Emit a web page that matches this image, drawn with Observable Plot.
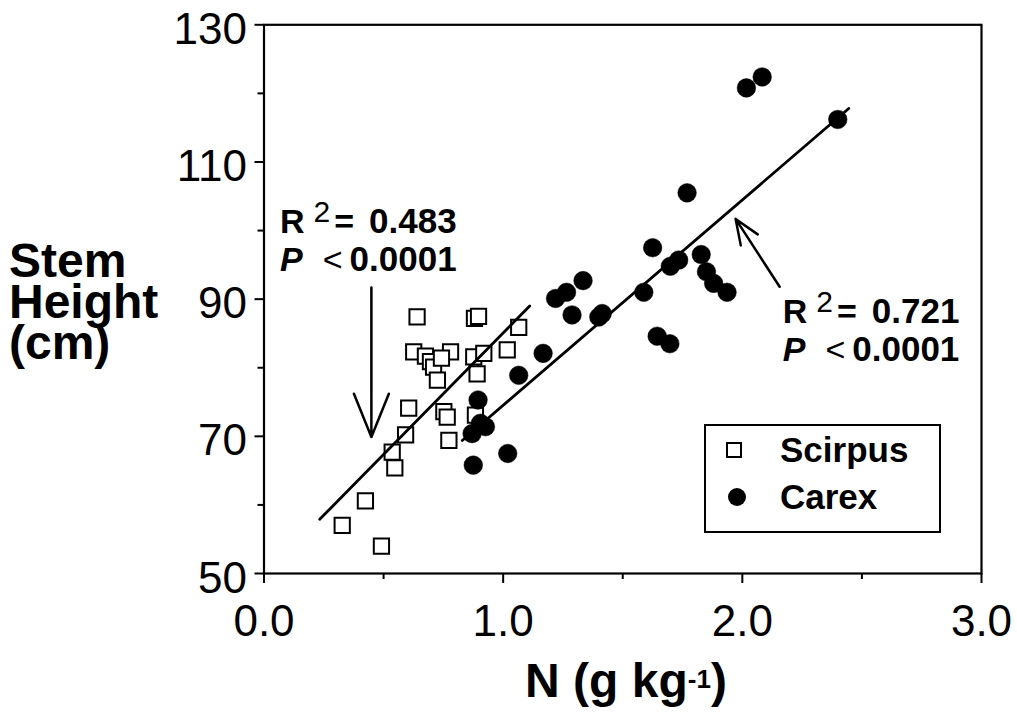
<!DOCTYPE html>
<html>
<head>
<meta charset="utf-8">
<script src="https://cdn.jsdelivr.net/npm/d3@7"></script>
<script src="https://cdn.jsdelivr.net/npm/@observablehq/plot@0.6"></script>
<style>
  html, body { margin: 0; padding: 0; background: #fff; }
  #wrap { position: relative; width: 1017px; height: 717px; font-family: "Liberation Sans", Arial, Helvetica, sans-serif; color: #000; }
  #wrap > svg { position: absolute; left: 0; top: 0; }
  #wrap .ytitle { position: absolute; left: 9px; top: 240px; font-weight: bold; font-size: 48px; line-height: 41px; white-space: pre-line; }
  #wrap .xtitle { position: absolute; left: 420px; width: 412px; top: 655px; text-align: center; font-weight: bold; font-size: 48px; line-height: 52px; }
  #wrap .xtitle sup { font-size: 26px; position: relative; top: -2px; vertical-align: top; }
  #wrap .legend { position: absolute; left: 704px; top: 424px; width: 233px; height: 105px; border: 2px solid #000; background: #fff; }
  #wrap .legend .row { position: absolute; left: 0; height: 40px; width: 233px; }
  #wrap .legend .row svg { position: absolute; left: 0; top: 0; }
  #wrap .legend .row span { position: absolute; left: 74px; top: 0; font-weight: bold; font-size: 35px; line-height: 40px; }
</style>
</head>
<body>
<div id="wrap"></div>
<script>
// ---- data ----
const scirpusN      = [0.640, 0.880, 0.897, 1.065, 1.017, 0.626, 0.675, 0.696, 0.709, 0.725, 0.780, 0.742, 0.877, 0.919, 0.891, 0.605, 0.752, 0.766, 0.884, 0.773, 0.592, 0.536, 0.547, 0.424, 0.327, 0.491];
const scirpusHeight = [87.4, 87.2, 87.5, 85.9, 82.6, 82.3, 81.7, 80.9, 80.1, 78.2, 82.3, 81.4, 81.6, 82.1, 79.1, 74.1, 73.6, 72.8, 73.1, 69.4, 70.2, 67.7, 65.4, 60.6, 57.0, 54.0];
const carexN        = [2.017, 2.083, 2.399, 1.769, 1.625, 1.699, 1.734, 1.828, 1.850, 1.880, 1.936, 1.588, 1.334, 1.219, 1.265, 1.288, 1.400, 1.414, 1.644, 1.697, 1.167, 1.065, 0.895, 0.905, 0.870, 0.926, 1.019, 0.875];
const carexHeight   = [120.8, 122.4, 116.2, 105.5, 97.5, 94.8, 95.7, 96.5, 94.0, 92.3, 91.0, 91.0, 92.7, 90.1, 91.0, 87.7, 87.4, 87.9, 84.6, 83.5, 82.1, 78.9, 75.3, 71.9, 70.4, 71.4, 67.5, 65.8];
// fitted regression lines (end points)
const scirpusFitN      = [0.233, 1.111];
const scirpusFitHeight = [57.9, 89.0];
const carexFitN        = [0.829, 2.445];
const carexFitHeight   = [69.4, 117.8];
// axis ticks
const xTicks = [0, 1, 2, 3];
const xMinorTicks = [0.5, 1.5, 2.5];
const yTicks = [50, 70, 90, 110, 130];
const yMinorTicks = [60, 80, 100, 120];
// series names, axis titles and annotation texts
const seriesNames = ["Scirpus", "Carex"];
const yTitleLines = ["Stem", "Height", "(cm)"];
const r2Values = ["0.483", "0.721"];
const pTexts = ["0.0001", "0.0001"];
// annotation anchors (data units) and arrows
const noteN = [0.069, 2.171];
const noteHeight = [99.6, 86.5];
const arrowFromN = [0.449, 2.156];
const arrowFromHeight = [91.7, 91.8];
const arrowToN = [0.449, 1.972];
const arrowToHeight = [69.9, 101.7];

// ---- tables ----
const scirpus = scirpusN.map((n, i) => ({n, h: scirpusHeight[i]}));
const carex = carexN.map((n, i) => ({n, h: carexHeight[i]}));
const scirpusFit = scirpusFitN.map((n, i) => ({n, h: scirpusFitHeight[i]}));
const carexFit = carexFitN.map((n, i) => ({n, h: carexFitHeight[i]}));
const arrows = arrowFromN.map((n, i) => ({x1: n, y1: arrowFromHeight[i], x2: arrowToN[i], y2: arrowToHeight[i]}));

const FONT = '"Liberation Sans", Arial, Helvetica, sans-serif';

const chart = Plot.plot({
  width: 1017,
  height: 717,
  marginLeft: 263.5,
  marginRight: 36,
  marginTop: 24.3,
  marginBottom: 144,
  x: {domain: [0, 3]},
  y: {domain: [50, 130]},
  style: {fontFamily: FONT, background: "white", color: "black", overflow: "visible"},
  marks: [
    // minor and major ticks
    Plot.axisX({ticks: xMinorTicks, tickSize: 6, strokeWidth: 2, fill: "none", label: null}),
    Plot.axisX({ticks: xTicks, tickSize: 10, strokeWidth: 2, fill: "none", label: null}),
    Plot.axisX({ticks: xTicks, tickSize: 0, tickPadding: 31, tickFormat: d => d.toFixed(1), fontSize: 44, label: null}),
    Plot.axisY({ticks: yMinorTicks, tickSize: 6, strokeWidth: 2, fill: "none", label: null}),
    Plot.axisY({ticks: yTicks, tickSize: 9, strokeWidth: 2, fill: "none", label: null}),
    Plot.axisY({ticks: yTicks, tickSize: 0, tickPadding: 17, dy: 5, fontSize: 44, label: null}),
    Plot.frame({stroke: "black", strokeWidth: 2.2}),
    // data
    Plot.dot(scirpus, {x: "n", y: "h", symbol: "square", r: 8.6, fill: "white", stroke: "black", strokeWidth: 2}),
    Plot.dot(carex, {x: "n", y: "h", r: 9.3, fill: "black", stroke: "black", strokeWidth: 0.5}),
    Plot.line(scirpusFit, {x: "n", y: "h", stroke: "black", strokeWidth: 2.8}),
    Plot.line(carexFit, {x: "n", y: "h", stroke: "black", strokeWidth: 2.8}),
    Plot.arrow(arrows, {x1: "x1", y1: "y1", x2: "x2", y2: "y2", stroke: "black", strokeWidth: 2.5, headLength: 28, headAngle: 44})
  ]
});

const wrap = document.getElementById("wrap");
wrap.appendChild(chart);

// annotations with superscripts, anchored through the plot's own scales
const sx = chart.scale("x"), sy = chart.scale("y");
const svgNS = "http://www.w3.org/2000/svg";
const g = document.createElementNS(svgNS, "g");
g.setAttribute("font-family", FONT);
g.setAttribute("font-size", "34");
g.setAttribute("text-anchor", "start");
chart.appendChild(g);
noteN.forEach((n, i) => {
  const px = sx.apply(n), py = sy.apply(noteHeight[i]);
  const t1 = document.createElementNS(svgNS, "text");
  t1.setAttribute("x", px); t1.setAttribute("y", py);
  t1.innerHTML = `<tspan font-weight="bold">R</tspan><tspan dx="9" dy="-11" font-weight="normal" font-size="30">2</tspan><tspan dx="4" dy="11" font-weight="bold">=</tspan><tspan dx="15" font-weight="bold" font-size="35">${r2Values[i]}</tspan>`;
  g.appendChild(t1);
  const t2 = document.createElementNS(svgNS, "text");
  t2.setAttribute("x", px); t2.setAttribute("y", py + 38);
  t2.innerHTML = `<tspan font-weight="bold" font-style="italic">P</tspan><tspan dx="20" font-weight="normal">&lt;</tspan><tspan dx="7" font-weight="bold" font-size="35">${pTexts[i]}</tspan>`;
  g.appendChild(t2);
});

// axis titles
const yt = document.createElement("div");
yt.className = "ytitle";
yt.textContent = yTitleLines.join("\n");
wrap.appendChild(yt);
const xt = document.createElement("div");
xt.className = "xtitle";
xt.innerHTML = "N (g kg<sup>-1</sup>)";
wrap.appendChild(xt);

// legend
const lg = document.createElement("div");
lg.className = "legend";
seriesNames.forEach((name, i) => {
  const row = document.createElement("div");
  row.className = "row";
  row.style.top = (i === 0 ? 4 : 51) + "px";
  const sym = i === 0
    ? `<svg width="60" height="40"><rect x="21" y="13" width="14" height="14" fill="white" stroke="black" stroke-width="2"/></svg>`
    : `<svg width="60" height="40"><circle cx="31" cy="20" r="9" fill="black"/></svg>`;
  row.innerHTML = sym + `<span>${name}</span>`;
  lg.appendChild(row);
});
wrap.appendChild(lg);
</script>
</body>
</html>
